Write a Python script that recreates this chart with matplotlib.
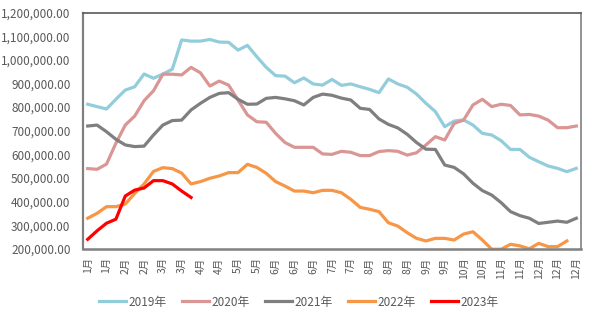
import matplotlib
matplotlib.use("Agg")
from matplotlib import pyplot as plt
from matplotlib.ticker import FuncFormatter
import numpy as np

plt.rcParams['font.family'] = ['Noto Sans CJK SC', 'DejaVu Sans']

# weekly values
y2019 = [812, 802, 792, 833, 872, 886, 940, 922, 940, 960,
         1084, 1079, 1079, 1086, 1075, 1074, 1041, 1061, 1013, 968,
         933, 931, 903, 923, 898, 893, 917, 892, 898, 886,
         875, 861, 919, 898, 884, 855, 816, 781, 717, 741,
         746, 724, 689, 682, 658, 621, 621, 588, 569, 551,
         541, 527, 541]
y2020 = [540, 537, 559, 647, 724, 762, 827, 869, 939, 939,
         936, 968, 945, 889, 910, 893, 830, 767, 738, 736,
         689, 650, 630, 630, 630, 602, 600, 613, 609, 595,
         595, 612, 616, 613, 597, 607, 640, 675, 661, 731,
         745, 809, 833, 802, 812, 807, 767, 769, 762, 745,
         713, 713, 720]
y2021 = [720, 724, 696, 664, 640, 633, 635, 682, 724, 743,
         745, 788, 816, 841, 858, 861, 833, 812, 813, 837,
         841, 835, 827, 809, 841, 855, 850, 838, 830, 795,
         790, 750, 727, 712, 685, 650, 622, 621, 555, 545,
         518, 478, 447, 428, 396, 358, 341, 330, 308, 313,
         318, 313, 330]
y2022 = [330, 351, 379, 379, 390, 435, 475, 528, 544, 540,
         521, 475, 485, 499, 509, 523, 523, 558, 545, 520,
         485, 466, 445, 445, 438, 448, 448, 438, 410, 376,
         368, 358, 311, 297, 269, 245, 234, 245, 245, 238,
         263, 273, 238, 199, 199, 220, 213, 201, 224, 210,
         210, 234]
y2023 = [241, 277, 309, 326, 424, 449, 458, 489, 489, 475,
         445, 418]

years = ['2019年', '2020年', '2021年', '2022年', '2023年']
colors = ['#92CDDC', '#DA9694', '#7F7F7F', '#F79646', '#FF0000']
month_labels = ['1月', '1月', '2月', '2月', '3月', '3月', '4月', '4月', '5月', '5月',
                '6月', '6月', '6月', '7月', '7月', '8月', '8月', '8月', '9月', '9月',
                '10月', '10月', '11月', '11月', '12月', '12月', '12月']

fig = plt.figure(figsize=(5.89, 3.23), dpi=100)
ax = fig.add_axes([83/589, 1 - 249/323, (581 - 83)/589, (249 - 12.5)/323])

for name, vals, c in zip(years, [y2019, y2020, y2021, y2022, y2023], colors):
    v = np.array(vals) * 1000
    ax.plot(np.arange(len(v)), v, color=c, lw=2.3, label=name, solid_joinstyle='round')

ax.set_xlim(-0.5, 52.5)
ax.set_ylim(200000, 1200000)
ax.set_yticks(np.arange(200000, 1200001, 100000))
ax.yaxis.set_major_formatter(FuncFormatter(lambda v, p: f"{v:,.2f}"))
ax.set_xticks(np.arange(0, 53, 2))
ax.set_xticklabels(month_labels, rotation=90)
ax.tick_params(axis='both', length=0, colors='#595959', labelsize=8.5)
ax.tick_params(axis='x', labelsize=7.5, pad=6)
ax.tick_params(axis='y', pad=9)

for s in ax.spines.values():
    s.set_color('#808080')
    s.set_linewidth(1.2)
ax.spines['top'].set_color('#595959')
ax.spines['bottom'].set_linewidth(1.8)
ax.spines['left'].set_linewidth(1.6)

fig.legend(loc='center', bbox_to_anchor=(0.507, 0.065), ncol=5, frameon=False,
           fontsize=8.5, handlelength=2.3, handletextpad=0.2, columnspacing=1.3,
           labelcolor='#595959')

fig.savefig("out.png", dpi=100)
